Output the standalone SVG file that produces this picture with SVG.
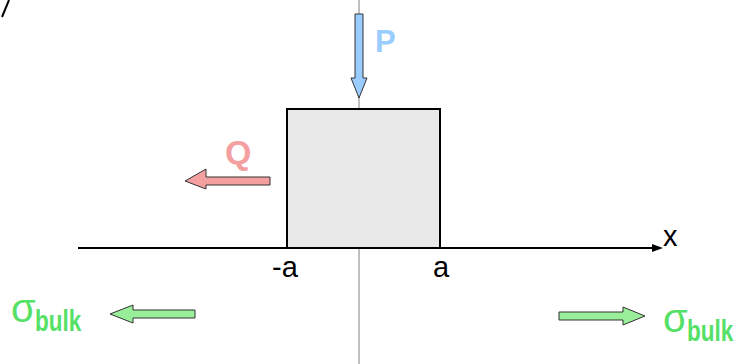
<svg xmlns="http://www.w3.org/2000/svg" width="736" height="364" viewBox="0 0 736 364">
<style>
.lbl{font-family:"Liberation Sans",Arial,sans-serif;fill:#000;font-size:29px}
.sym{font-family:"Liberation Sans",Arial,sans-serif;font-weight:bold}
.arr{stroke:#333;stroke-width:1}
.sig{font-family:"Liberation Sans",Arial,sans-serif;fill:#55e066;font-size:40px}
.sub{font-family:"Liberation Sans",Arial,sans-serif;fill:#55e066;font-size:22.5px;font-weight:bold}
</style>
<rect width="736" height="364" fill="#fff"/>
<path d="M9,0 L2,17" stroke="#000" stroke-width="2"/>
<g id="connectors">
<line x1="359" y1="0" x2="359" y2="364" stroke="#808080" stroke-width="1"/>
<line x1="78" y1="248" x2="656" y2="248" stroke="#000" stroke-width="2"/>
<path d="M652,244 L663,248 L652,252 Z" fill="#000"/>
</g>
<g id="block">
<rect x="287" y="109" width="153" height="139" fill="#e8e8e8" stroke="#000" stroke-width="2"/>
</g>
<g id="axis-labels">
<text class="lbl" x="663" y="246" font-size="33">x</text>
<text class="lbl" x="272" y="277">-a</text>
<text class="lbl" x="433" y="277">a</text>
</g>
<g id="P">
<path class="arr" d="M355,14 L363,14 L363,78 L367,78 L359,98 L351,78 L355,78 Z" fill="#99ccff"/>
<text class="sym" x="375" y="52" font-size="31" fill="#99ccff">P</text>
</g>
<g id="Q">
<path class="arr" d="M270,177 L270,185 L206,185 L206,189 L185,181 L206,169 L206,177 Z" fill="#f4a0a0"/>
<text class="sym" x="225" y="164" font-size="34" fill="#f4a0a0">Q</text>
</g>
<g id="sigma-left">
<path class="arr" d="M195,310 L195,318 L133,318 L133,323 L110,314 L133,305 L133,310 Z" fill="#99ee99"/>
<text class="sig" x="11" y="322">σ</text>
<text class="sub" transform="translate(35,331) scale(1,1.35)">bulk</text>
</g>
<g id="sigma-right">
<path class="arr" d="M559,312 L559,320 L623,320 L623,325 L645,316 L623,307 L623,312 Z" fill="#99ee99"/>
<text class="sig" x="663" y="332">σ</text>
<text class="sub" transform="translate(687,341) scale(1,1.35)">bulk</text>
</g>
</svg>
